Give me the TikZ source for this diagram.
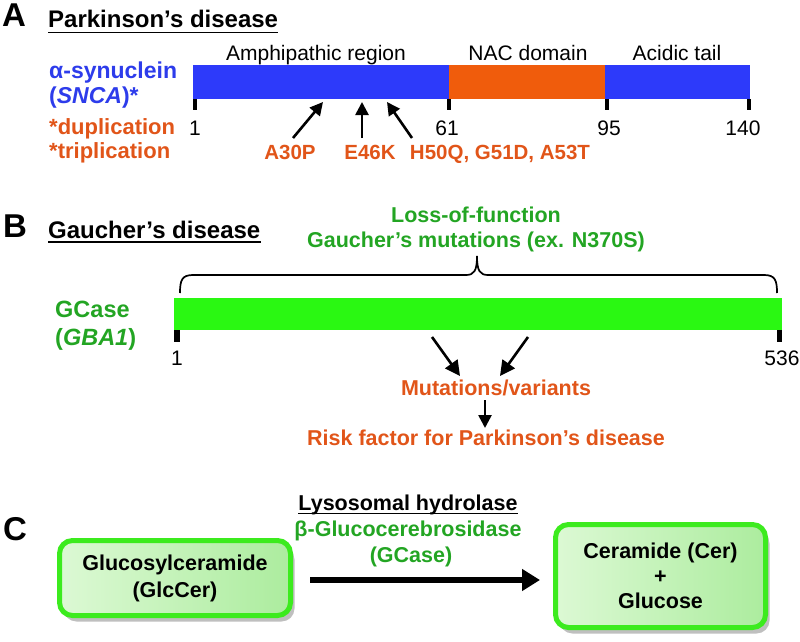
\documentclass[tikz,border=0pt]{standalone}
\usepackage{fontspec}
\setmainfont{Liberation Sans}
\usetikzlibrary{arrows.meta,shadows}
\definecolor{sblue}{RGB}{45,58,250}
\definecolor{sorange}{RGB}{240,92,12}
\definecolor{tblue}{RGB}{45,60,235}
\definecolor{torange}{RGB}{225,85,25}
\definecolor{gbar}{RGB}{42,248,18}
\definecolor{tgreen}{RGB}{35,165,35}
\definecolor{bgreen}{RGB}{60,235,30}
\definecolor{fillL}{RGB}{220,249,212}
\definecolor{fillR}{RGB}{172,236,158}
\newcommand\fsz[2]{\fontsize{#1pt}{#2pt}\selectfont}
\begin{document}
\begin{tikzpicture}[x=1pt,y=-1pt,
  lbl/.style={inner sep=0pt, anchor=base},
  lblw/.style={inner sep=0pt, anchor=base west},
  panel/.style={lblw, font=\bfseries\fsz{33}{36}},
  heading/.style={lblw, font=\bfseries\fsz{24}{26}},
  reg/.style={lbl, font=\fsz{21}{24}},
  bt/.style={font=\bfseries\fsz{21.5}{24}},
  mut/.style={lbl, font=\bfseries\fsz{20.5}{24}, text=torange},
  ul/.style={line width=1.6pt},
  tickA/.style={line width=4pt},
  tickB/.style={line width=5.5pt},
  arrA/.style={line width=2.6pt, -{Triangle[length=13pt,width=13pt]}},
  arrB/.style={line width=2.6pt, -{Triangle[length=15pt,width=15pt]}},
  arrC/.style={line width=6.5pt, -{Triangle[length=18pt,width=21pt]}},
  cbox/.style={draw=bgreen, line width=5pt, rounded corners=13pt,
    left color=fillL, right color=fillR, align=center, inner sep=0pt,
    drop shadow={shadow xshift=4pt, shadow yshift=-6pt, fill=black, opacity=0.25}}
]
\useasboundingbox (0,0) rectangle (800,642);

% ---------------- Panel A ----------------
\node[panel] (pA) at (2,27) {A};
\node[heading] (tA) at (48,28) {Parkinson’s disease};
\draw[ul] ([yshift=-4.5pt]tA.base west) -- ([yshift=-4.5pt]tA.base east);

\node[reg] (amph) at (316,60) {Amphipathic region};
\node[reg] (nac) at (528,60) {NAC domain};
\node[reg] (acid) at (677,60) {Acidic tail};

\fill[sblue] (193,65) rectangle (449,99);
\fill[sorange] (449,65) rectangle (605,99);
\fill[sblue] (605,65) rectangle (750,99);
\draw[tickA] (195,99) -- (195,110);
\draw[tickA] (448.5,99) -- (448.5,110);
\draw[tickA] (607,99) -- (607,110);
\draw[tickA] (749,99) -- (749,110);

\node[reg] (n1) at (195,135) {1};
\node[reg] (n61) at (447,135) {61};
\node[reg] (n95) at (609,135) {95};
\node[reg] (n140) at (743,135) {140};

\node[lblw, font=\bfseries\fsz{23}{24}, text=tblue] (syn) at (49,78) {α-synuclein};
\node[lblw, font=\bfseries\fsz{23}{24}, text=tblue] (snca) at (49,103) {(\textit{SNCA})*};
\node[lblw, font=\bfseries\fsz{22}{24}, text=torange] (dup) at (49,134) {*duplication};
\node[lblw, font=\bfseries\fsz{22}{24}, text=torange] (trip) at (49,158) {*triplication};

\node[mut] (m1) at (290,159) {A30P};
\node[mut] (m2) at (370,159) {E46K};
\node[mut] (m3) at (500,159) {H50Q, G51D, A53T};

\coordinate (a1s) at (293,138); \coordinate (a1e) at (323,102);
\coordinate (a2s) at (362,138); \coordinate (a2e) at (362,102);
\coordinate (a3s) at (412,138); \coordinate (a3e) at (387,102);
\draw[arrA] (a1s) -- (a1e);
\draw[arrA] (a2s) -- (a2e);
\draw[arrA] (a3s) -- (a3e);

% ---------------- Panel B ----------------
\node[panel] (pB) at (3,237) {B};
\node[heading] (tB) at (48,238) {Gaucher’s disease};
\draw[ul] ([yshift=-4pt]tB.base west) -- ([yshift=-4pt]tB.base east);

\node[lbl, bt, text=tgreen] (lof) at (476,222) {Loss-of-function};
\node[lbl, bt, text=tgreen] (gm) at (476,247) {Gaucher’s mutations (ex. N370S)};

\draw[line width=1.7pt] (180,293) .. controls (180,280) and (182,275) .. (193,275)
  -- (466,275) .. controls (474,275) and (477,271) .. (477,256)
  .. controls (477,271) and (480,275) .. (488,275)
  -- (764,275) .. controls (775,275) and (777,280) .. (777,293);

\fill[gbar] (174,298) rectangle (782,330);
\draw[tickB] (177,330) -- (177,342);
\draw[tickB] (779.5,330) -- (779.5,342);
\node[reg] (b1) at (177,365) {1};
\node[reg] (b536) at (782,365) {536};

\node[lblw, font=\bfseries\fsz{23.5}{24}, text=tgreen] (gc) at (55,317) {GCase};
\node[lblw, font=\bfseries\fsz{23.5}{24}, text=tgreen] (gba) at (55,345) {(\textit{GBA1})};

\coordinate (b1s) at (432,337); \coordinate (b1e) at (460,376);
\coordinate (b2s) at (528,337); \coordinate (b2e) at (500,376);
\draw[arrB] (b1s) -- (b1e);
\draw[arrB] (b2s) -- (b2e);

\node[lbl, bt, text=torange] (mv) at (496,395) {Mutations/variants};
\coordinate (b3s) at (485,400); \coordinate (b3e) at (485,428);
\draw[arrA] (b3s) -- (b3e);
\node[lbl, bt, text=torange] (risk) at (486,445) {Risk factor for Parkinson’s disease};

% ---------------- Panel C ----------------
\node[panel] (pC) at (3,540) {C};
\node[lbl, bt] (lh) at (408,510) {Lysosomal hydrolase};
\draw[ul] ([yshift=-3.5pt]lh.base west) -- ([yshift=-3.5pt]lh.base east);
\node[lbl, bt, text=tgreen] (bg) at (408,536) {β-Glucocerebrosidase};
\node[lbl, bt, text=tgreen] (gcs) at (411,562) {(GCase)};

\node[cbox, minimum width=231pt, minimum height=75pt, font=\bfseries\fsz{21.5}{27}]
  (lbox) at (175,578) {Glucosylceramide\\(GlcCer)};
\node[cbox, minimum width=210pt, minimum height=103pt, font=\bfseries\fsz{21.5}{25}]
  (rbox) at (660.5,576) {Ceramide (Cer)\\+\\Glucose};

\draw[arrC, shorten <=17pt, shorten >=13pt] (lbox.east |- 0,580) -- (rbox.west |- 0,580);
\end{tikzpicture}
\end{document}
